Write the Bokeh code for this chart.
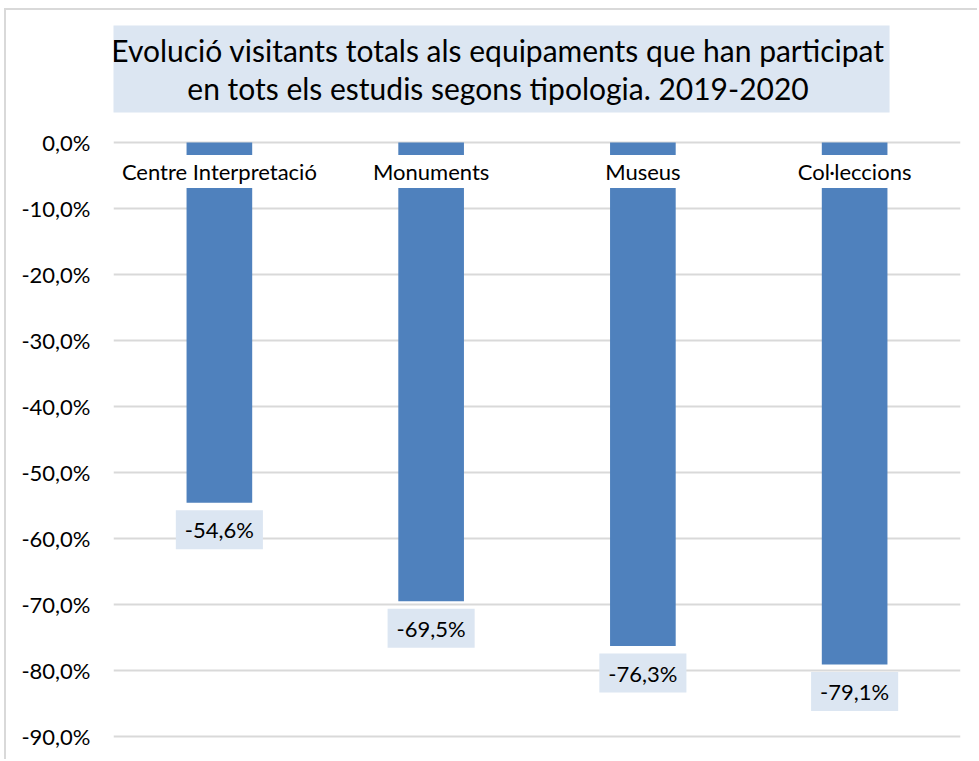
from bokeh.plotting import figure
from bokeh.models import Range1d, FixedTicker, BoxAnnotation, ColumnDataSource, CustomJSTickFormatter
from bokeh.core.properties import value
from bokeh.embed import file_html
from bokeh.resources import INLINE

# ---- data ----
categories = ["Centre Interpretació", "Monuments", "Museus", "Col·leccions"]
variation = [-54.6, -69.5, -76.3, -79.1]
y_ticks = [0, -10, -20, -30, -40, -50, -60, -70, -80, -90]
title_lines = ["Evolució visitants totals als equipaments que han participat",
               "en tots els estudis segons tipologia. 2019-2020"]


def pct(v):
    return f"{v:.1f}%".replace(".", ",")


FONT = "Lato"
BLUE = "#4F81BD"
LIGHT = "#DCE6F2"
GRID = "#D9D9D9"

src = ColumnDataSource(dict(cat=categories, val=variation, lbl=[pct(v) for v in variation]))

p = figure(x_range=categories, y_range=Range1d(-93.79, 20.0),
           width=973, height=751, output_backend="svg", toolbar_location=None,
           min_border_left=107, min_border_right=19, min_border_top=0, min_border_bottom=0)
p.styles = {"border-left": "2px solid #D9D9D9", "border-top": "2px solid #D9D9D9",
            "margin-left": "4px", "margin-top": "8px"}
p.outline_line_color = None
p.background_fill_color = "white"
p.border_fill_color = "white"
p.xaxis.visible = False
p.xgrid.visible = False

ticker = FixedTicker(ticks=y_ticks)
p.yaxis.ticker = ticker
p.ygrid.ticker = ticker
p.yaxis.formatter = CustomJSTickFormatter(code="return tick.toFixed(1).replace('.', ',') + '%';")
p.yaxis.axis_line_color = None
p.yaxis.major_tick_line_color = None
p.yaxis.minor_tick_line_color = None
p.yaxis.major_tick_out = 0
p.yaxis.major_tick_in = 0
p.yaxis.major_label_standoff = 23
p.yaxis.major_label_text_font = FONT
p.yaxis.major_label_text_font_size = "22px"
p.yaxis.major_label_text_color = "#000000"
p.ygrid.grid_line_color = GRID
p.ygrid.grid_line_width = 2

# bars
p.vbar(x="cat", top=0, bottom="val", width=0.31, source=src,
       fill_color=BLUE, line_color=None)

# category labels (white boxes over bars)
p.text(x="cat", y=0, text="cat", source=src, y_offset=29,
       text_align="center", text_baseline="middle",
       text_font=value(FONT), text_font_size="22px", text_color="#000000",
       background_fill_color="white", padding=(4, 3))

# value labels
p.text(x="cat", y="val", text="lbl", source=src, y_offset=27,
       text_align="center", text_baseline="middle",
       text_font=value(FONT), text_font_size="22px", text_color="#000000",
       background_fill_color=LIGHT, padding=(9, 6))

# title
p.add_layout(BoxAnnotation(left=-0.033, right=3.665, top=17.73, bottom=4.545,
                           fill_color=LIGHT, fill_alpha=1, line_color=None, level="underlay"))
p.text(x=[1.816, 1.816], y=[13.94, 8.19], text=title_lines,
       text_align="center", text_baseline="alphabetic",
       text_font=value(FONT), text_font_size="30px", text_color="#000000")

open("out.html", "w").write(file_html(p, INLINE))
